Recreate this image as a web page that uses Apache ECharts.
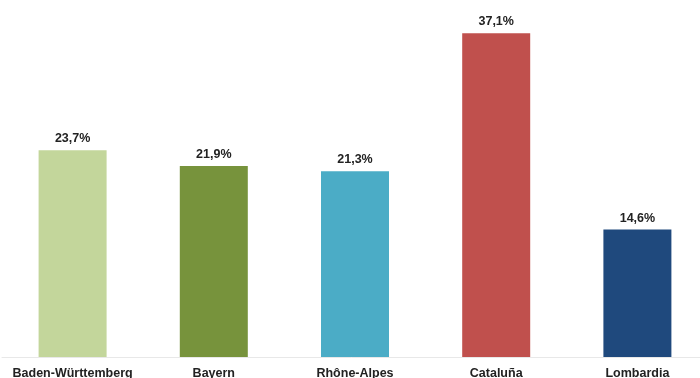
<!DOCTYPE html>
<html>
<head>
<meta charset="utf-8">
<script src="https://cdn.jsdelivr.net/npm/echarts@6/dist/echarts.min.js"></script>
<style>html,body{margin:0;padding:0;background:#fff}#c{width:700px;height:378px}</style>
</head>
<body>
<div id="c"></div>
<script>
var categories = ['Baden-Württemberg', 'Bayern', 'Rhône-Alpes', 'Cataluña', 'Lombardia'];
var values = [23.7, 21.9, 21.3, 37.1, 14.6];
var colors = ['#c3d69b', '#77933c', '#4bacc6', '#c0504d', '#1f497d'];

var chart = echarts.init(document.getElementById('c'), null, {renderer: 'canvas'});
chart.setOption({
  animation: false,
  grid: {left: 2, width: 706, top: 8, bottom: 21, outerBoundsMode: 'none', containLabel: false},
  xAxis: {
    type: 'category',
    data: categories,
    axisLine: {show: true, lineStyle: {color: '#e8e8e8', width: 1}},
    axisTick: {show: false},
    axisLabel: {
      interval: 0, margin: 10, color: '#222',
      fontFamily: 'Liberation Sans, Arial, sans-serif', fontWeight: 'bold', fontSize: 12.5
    }
  },
  yAxis: {type: 'value', min: 0, max: 40, show: false, splitLine: {show: false}},
  series: [{
    type: 'bar',
    barWidth: 68,
    data: values.map(function (v, i) { return {value: v, itemStyle: {color: colors[i]}}; }),
    label: {
      show: true, position: 'top', distance: 5, color: '#222',
      fontFamily: 'Liberation Sans, Arial, sans-serif', fontWeight: 'bold', fontSize: 12.5,
      formatter: function (p) { return p.value.toFixed(1).replace('.', ',') + '%'; }
    }
  }]
});
</script>
</body>
</html>
